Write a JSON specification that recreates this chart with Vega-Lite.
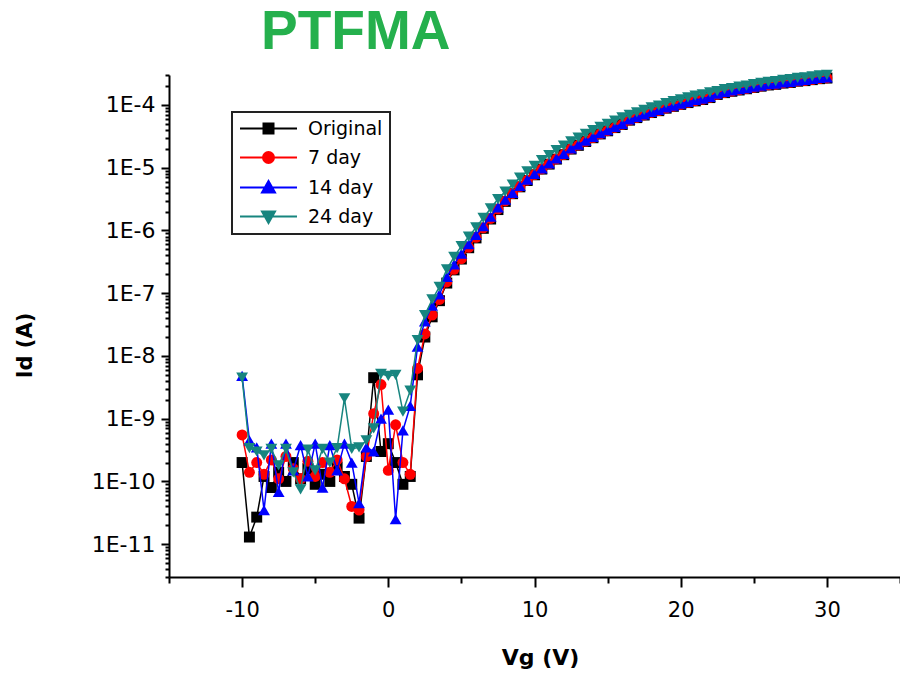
{
"$schema":"https://vega.github.io/schema/vega-lite/v6.json",
"width":731,"height":502,
"autosize":{"type":"none"},
"padding":{"left":169,"top":75,"right":0,"bottom":103},
"background":"white",
"config":{"view":{"stroke":null},"font":"DejaVu Sans","legend":{"strokeWidth":2}},
"title":{"text":"PTFMA","anchor":"start","frame":"group","dx":92,"offset":3,"font":"Liberation Sans","fontSize":55,"fontWeight":"bold","color":"#25b04d"},
"data":{"values":[
{"series":"Original","vg":-10,"id":2.0e-10},{"series":"Original","vg":-9.5,"id":1.3e-11},{"series":"Original","vg":-9,"id":2.7e-11},{"series":"Original","vg":-8.5,"id":1.2e-10},{"series":"Original","vg":-8,"id":8.0e-11},{"series":"Original","vg":-7.5,"id":1.4e-10},{"series":"Original","vg":-7,"id":1.0e-10},{"series":"Original","vg":-6.5,"id":2.0e-10},{"series":"Original","vg":-6,"id":1.1e-10},{"series":"Original","vg":-5.5,"id":1.6e-10},{"series":"Original","vg":-5,"id":9.0e-11},{"series":"Original","vg":-4.5,"id":1.3e-10},{"series":"Original","vg":-4,"id":1.0e-10},{"series":"Original","vg":-3.5,"id":1.7e-10},{"series":"Original","vg":-3,"id":1.2e-10},{"series":"Original","vg":-2.5,"id":9.0e-11},{"series":"Original","vg":-2,"id":2.6e-11},{"series":"Original","vg":-1.5,"id":2.5e-10},{"series":"Original","vg":-1,"id":4.5e-9},{"series":"Original","vg":-0.5,"id":3.0e-10},{"series":"Original","vg":0,"id":4.0e-10},{"series":"Original","vg":0.5,"id":2.0e-10},{"series":"Original","vg":1,"id":9.0e-11},{"series":"Original","vg":1.5,"id":1.2e-10},
{"series":"Original","vg":2,"id":5.0e-9},{"series":"Original","vg":2.5,"id":2.0e-8},{"series":"Original","vg":3,"id":4.2e-8},{"series":"Original","vg":3.5,"id":7.6e-8},{"series":"Original","vg":4,"id":1.45e-7},{"series":"Original","vg":4.5,"id":2.35e-7},{"series":"Original","vg":5,"id":3.5e-7},{"series":"Original","vg":5.5,"id":5.3e-7},{"series":"Original","vg":6,"id":7.6e-7},{"series":"Original","vg":6.5,"id":1.08e-6},{"series":"Original","vg":7,"id":1.52e-6},{"series":"Original","vg":7.5,"id":2.15e-6},{"series":"Original","vg":8,"id":2.9e-6},{"series":"Original","vg":8.5,"id":3.85e-6},{"series":"Original","vg":9,"id":4.95e-6},{"series":"Original","vg":9.5,"id":6.25e-6},{"series":"Original","vg":10,"id":7.7e-6},{"series":"Original","vg":10.5,"id":9.5e-6},{"series":"Original","vg":11,"id":1.14e-5},{"series":"Original","vg":11.5,"id":1.37e-5},{"series":"Original","vg":12,"id":1.61e-5},{"series":"Original","vg":12.5,"id":1.98e-5},{"series":"Original","vg":13,"id":2.27e-5},{"series":"Original","vg":13.5,"id":2.61e-5},{"series":"Original","vg":14,"id":3.0e-5},{"series":"Original","vg":14.5,"id":3.45e-5},{"series":"Original","vg":15,"id":3.87e-5},{"series":"Original","vg":15.5,"id":4.35e-5},{"series":"Original","vg":16,"id":4.88e-5},{"series":"Original","vg":16.5,"id":5.72e-5},{"series":"Original","vg":17,"id":6.28e-5},{"series":"Original","vg":17.5,"id":6.9e-5},{"series":"Original","vg":18,"id":7.56e-5},{"series":"Original","vg":18.5,"id":8.1e-5},{"series":"Original","vg":19,"id":8.88e-5},{"series":"Original","vg":19.5,"id":9.5e-5},{"series":"Original","vg":20,"id":1.02e-4},{"series":"Original","vg":20.5,"id":1.09e-4},{"series":"Original","vg":21,"id":1.16e-4},{"series":"Original","vg":21.5,"id":1.22e-4},{"series":"Original","vg":22,"id":1.31e-4},{"series":"Original","vg":22.5,"id":1.47e-4},{"series":"Original","vg":23,"id":1.57e-4},{"series":"Original","vg":23.5,"id":1.65e-4},{"series":"Original","vg":24,"id":1.73e-4},{"series":"Original","vg":24.5,"id":1.81e-4},{"series":"Original","vg":25,"id":1.9e-4},{"series":"Original","vg":25.5,"id":1.99e-4},{"series":"Original","vg":26,"id":2.08e-4},{"series":"Original","vg":26.5,"id":2.13e-4},{"series":"Original","vg":27,"id":2.23e-4},{"series":"Original","vg":27.5,"id":2.28e-4},{"series":"Original","vg":28,"id":2.39e-4},{"series":"Original","vg":28.5,"id":2.44e-4},{"series":"Original","vg":29,"id":2.53e-4},{"series":"Original","vg":29.5,"id":2.62e-4},{"series":"Original","vg":30,"id":2.68e-4},
{"series":"7 day","vg":-10,"id":5.5e-10},{"series":"7 day","vg":-9.5,"id":1.4e-10},{"series":"7 day","vg":-9,"id":2.0e-10},{"series":"7 day","vg":-8.5,"id":1.3e-10},{"series":"7 day","vg":-8,"id":2.2e-10},{"series":"7 day","vg":-7.5,"id":1.1e-10},{"series":"7 day","vg":-7,"id":2.5e-10},{"series":"7 day","vg":-6.5,"id":1.6e-10},{"series":"7 day","vg":-6,"id":1.1e-10},{"series":"7 day","vg":-5.5,"id":2.1e-10},{"series":"7 day","vg":-5,"id":1.2e-10},{"series":"7 day","vg":-4.5,"id":2.0e-10},{"series":"7 day","vg":-4,"id":1.4e-10},{"series":"7 day","vg":-3.5,"id":2.2e-10},{"series":"7 day","vg":-3,"id":1.1e-10},{"series":"7 day","vg":-2.5,"id":4.0e-11},{"series":"7 day","vg":-2,"id":3.5e-11},{"series":"7 day","vg":-1.5,"id":2.5e-10},{"series":"7 day","vg":-1,"id":1.2e-9},{"series":"7 day","vg":-0.5,"id":3.5e-9},{"series":"7 day","vg":0,"id":1.5e-10},{"series":"7 day","vg":0.5,"id":8.0e-10},{"series":"7 day","vg":1,"id":2.0e-10},{"series":"7 day","vg":1.5,"id":1.3e-10},
{"series":"7 day","vg":2,"id":6.31e-9},{"series":"7 day","vg":2.5,"id":2.24e-8},{"series":"7 day","vg":3,"id":4.47e-8},{"series":"7 day","vg":3.5,"id":7.94e-8},{"series":"7 day","vg":4,"id":1.51e-7},{"series":"7 day","vg":4.5,"id":2.4e-7},{"series":"7 day","vg":5,"id":3.55e-7},{"series":"7 day","vg":5.5,"id":5.37e-7},{"series":"7 day","vg":6,"id":7.76e-7},{"series":"7 day","vg":6.5,"id":1.1e-6},{"series":"7 day","vg":7,"id":1.55e-6},{"series":"7 day","vg":7.5,"id":2.19e-6},{"series":"7 day","vg":8,"id":2.95e-6},{"series":"7 day","vg":8.5,"id":3.89e-6},{"series":"7 day","vg":9,"id":5.01e-6},{"series":"7 day","vg":9.5,"id":6.31e-6},{"series":"7 day","vg":10,"id":7.76e-6},{"series":"7 day","vg":10.5,"id":9.55e-6},{"series":"7 day","vg":11,"id":1.15e-5},{"series":"7 day","vg":11.5,"id":1.38e-5},{"series":"7 day","vg":12,"id":1.62e-5},{"series":"7 day","vg":12.5,"id":2.0e-5},{"series":"7 day","vg":13,"id":2.29e-5},{"series":"7 day","vg":13.5,"id":2.63e-5},{"series":"7 day","vg":14,"id":3.02e-5},{"series":"7 day","vg":14.5,"id":3.47e-5},{"series":"7 day","vg":15,"id":3.89e-5},{"series":"7 day","vg":15.5,"id":4.37e-5},{"series":"7 day","vg":16,"id":4.9e-5},{"series":"7 day","vg":16.5,"id":5.75e-5},{"series":"7 day","vg":17,"id":6.31e-5},{"series":"7 day","vg":17.5,"id":6.92e-5},{"series":"7 day","vg":18,"id":7.59e-5},{"series":"7 day","vg":18.5,"id":8.13e-5},{"series":"7 day","vg":19,"id":8.91e-5},{"series":"7 day","vg":19.5,"id":9.55e-5},{"series":"7 day","vg":20,"id":1.02e-4},{"series":"7 day","vg":20.5,"id":1.1e-4},{"series":"7 day","vg":21,"id":1.17e-4},{"series":"7 day","vg":21.5,"id":1.23e-4},{"series":"7 day","vg":22,"id":1.32e-4},{"series":"7 day","vg":22.5,"id":1.48e-4},{"series":"7 day","vg":23,"id":1.58e-4},{"series":"7 day","vg":23.5,"id":1.66e-4},{"series":"7 day","vg":24,"id":1.74e-4},{"series":"7 day","vg":24.5,"id":1.82e-4},{"series":"7 day","vg":25,"id":1.91e-4},{"series":"7 day","vg":25.5,"id":2.0e-4},{"series":"7 day","vg":26,"id":2.09e-4},{"series":"7 day","vg":26.5,"id":2.14e-4},{"series":"7 day","vg":27,"id":2.24e-4},{"series":"7 day","vg":27.5,"id":2.29e-4},{"series":"7 day","vg":28,"id":2.4e-4},{"series":"7 day","vg":28.5,"id":2.45e-4},{"series":"7 day","vg":29,"id":2.54e-4},{"series":"7 day","vg":29.5,"id":2.63e-4},{"series":"7 day","vg":30,"id":2.69e-4},
{"series":"14 day","vg":-10,"id":4.8e-9},{"series":"14 day","vg":-9.5,"id":4.5e-10},{"series":"14 day","vg":-9,"id":3.5e-10},{"series":"14 day","vg":-8.5,"id":3.5e-11},{"series":"14 day","vg":-8,"id":4.0e-10},{"series":"14 day","vg":-7.5,"id":6.8e-11},{"series":"14 day","vg":-7,"id":4.0e-10},{"series":"14 day","vg":-6.5,"id":1.5e-10},{"series":"14 day","vg":-6,"id":3.8e-10},{"series":"14 day","vg":-5.5,"id":1.2e-10},{"series":"14 day","vg":-5,"id":4.0e-10},{"series":"14 day","vg":-4.5,"id":8.0e-11},{"series":"14 day","vg":-4,"id":3.8e-10},{"series":"14 day","vg":-3.5,"id":1.5e-10},{"series":"14 day","vg":-3,"id":4.0e-10},{"series":"14 day","vg":-2.5,"id":2.0e-10},{"series":"14 day","vg":-2,"id":4.5e-11},{"series":"14 day","vg":-1.5,"id":3.5e-10},{"series":"14 day","vg":-1,"id":3.0e-10},{"series":"14 day","vg":-0.5,"id":1.0e-9},{"series":"14 day","vg":0,"id":1.4e-9},{"series":"14 day","vg":0.5,"id":2.5e-11},{"series":"14 day","vg":1,"id":6.5e-10},{"series":"14 day","vg":1.5,"id":1.6e-9},
{"series":"14 day","vg":2,"id":1.41e-8},{"series":"14 day","vg":2.5,"id":3.55e-8},{"series":"14 day","vg":3,"id":6.31e-8},{"series":"14 day","vg":3.5,"id":9.55e-8},{"series":"14 day","vg":4,"id":1.82e-7},{"series":"14 day","vg":4.5,"id":2.88e-7},{"series":"14 day","vg":5,"id":4.27e-7},{"series":"14 day","vg":5.5,"id":6.03e-7},{"series":"14 day","vg":6,"id":8.51e-7},{"series":"14 day","vg":6.5,"id":1.17e-6},{"series":"14 day","vg":7,"id":1.66e-6},{"series":"14 day","vg":7.5,"id":2.34e-6},{"series":"14 day","vg":8,"id":3.09e-6},{"series":"14 day","vg":8.5,"id":3.98e-6},{"series":"14 day","vg":9,"id":5.13e-6},{"series":"14 day","vg":9.5,"id":6.46e-6},{"series":"14 day","vg":10,"id":7.94e-6},{"series":"14 day","vg":10.5,"id":9.77e-6},{"series":"14 day","vg":11,"id":1.17e-5},{"series":"14 day","vg":11.5,"id":1.41e-5},{"series":"14 day","vg":12,"id":1.66e-5},{"series":"14 day","vg":12.5,"id":2.04e-5},{"series":"14 day","vg":13,"id":2.34e-5},{"series":"14 day","vg":13.5,"id":2.69e-5},{"series":"14 day","vg":14,"id":3.09e-5},{"series":"14 day","vg":14.5,"id":3.55e-5},{"series":"14 day","vg":15,"id":3.98e-5},{"series":"14 day","vg":15.5,"id":4.47e-5},{"series":"14 day","vg":16,"id":5.01e-5},{"series":"14 day","vg":16.5,"id":5.89e-5},{"series":"14 day","vg":17,"id":6.46e-5},{"series":"14 day","vg":17.5,"id":7.08e-5},{"series":"14 day","vg":18,"id":7.76e-5},{"series":"14 day","vg":18.5,"id":8.32e-5},{"series":"14 day","vg":19,"id":9.12e-5},{"series":"14 day","vg":19.5,"id":9.77e-5},{"series":"14 day","vg":20,"id":1.05e-4},{"series":"14 day","vg":20.5,"id":1.12e-4},{"series":"14 day","vg":21,"id":1.2e-4},{"series":"14 day","vg":21.5,"id":1.26e-4},{"series":"14 day","vg":22,"id":1.35e-4},{"series":"14 day","vg":22.5,"id":1.51e-4},{"series":"14 day","vg":23,"id":1.62e-4},{"series":"14 day","vg":23.5,"id":1.7e-4},{"series":"14 day","vg":24,"id":1.78e-4},{"series":"14 day","vg":24.5,"id":1.86e-4},{"series":"14 day","vg":25,"id":1.95e-4},{"series":"14 day","vg":25.5,"id":2.04e-4},{"series":"14 day","vg":26,"id":2.14e-4},{"series":"14 day","vg":26.5,"id":2.19e-4},{"series":"14 day","vg":27,"id":2.29e-4},{"series":"14 day","vg":27.5,"id":2.34e-4},{"series":"14 day","vg":28,"id":2.45e-4},{"series":"14 day","vg":28.5,"id":2.51e-4},{"series":"14 day","vg":29,"id":2.6e-4},{"series":"14 day","vg":29.5,"id":2.69e-4},{"series":"14 day","vg":30,"id":2.75e-4},
{"series":"24 day","vg":-10,"id":4.5e-9},{"series":"24 day","vg":-9.5,"id":3.4e-10},{"series":"24 day","vg":-9,"id":3.0e-10},{"series":"24 day","vg":-8.5,"id":2.6e-10},{"series":"24 day","vg":-8,"id":3.3e-10},{"series":"24 day","vg":-7.5,"id":1.8e-10},{"series":"24 day","vg":-7,"id":3.3e-10},{"series":"24 day","vg":-6.5,"id":1.4e-10},{"series":"24 day","vg":-6,"id":7.5e-11},{"series":"24 day","vg":-5.5,"id":3.2e-10},{"series":"24 day","vg":-5,"id":1.5e-10},{"series":"24 day","vg":-4.5,"id":3.3e-10},{"series":"24 day","vg":-4,"id":2.0e-10},{"series":"24 day","vg":-3.5,"id":3.4e-10},{"series":"24 day","vg":-3,"id":2.1e-9},{"series":"24 day","vg":-2.5,"id":3.3e-10},{"series":"24 day","vg":-2,"id":3.5e-10},{"series":"24 day","vg":-1.5,"id":4.5e-10},{"series":"24 day","vg":-1,"id":7.0e-10},{"series":"24 day","vg":-0.5,"id":5.2e-9},{"series":"24 day","vg":0,"id":4.8e-9},{"series":"24 day","vg":0.5,"id":5.0e-9},{"series":"24 day","vg":1,"id":1.3e-9},{"series":"24 day","vg":1.5,"id":2.8e-9},
{"series":"24 day","vg":2,"id":1.78e-8},{"series":"24 day","vg":2.5,"id":4.47e-8},{"series":"24 day","vg":3,"id":7.94e-8},{"series":"24 day","vg":3.5,"id":1.26e-7},{"series":"24 day","vg":4,"id":2.4e-7},{"series":"24 day","vg":4.5,"id":3.8e-7},{"series":"24 day","vg":5,"id":5.62e-7},{"series":"24 day","vg":5.5,"id":7.94e-7},{"series":"24 day","vg":6,"id":1.12e-6},{"series":"24 day","vg":6.5,"id":1.58e-6},{"series":"24 day","vg":7,"id":2.24e-6},{"series":"24 day","vg":7.5,"id":3.16e-6},{"series":"24 day","vg":8,"id":4.17e-6},{"series":"24 day","vg":8.5,"id":5.37e-6},{"series":"24 day","vg":9,"id":6.92e-6},{"series":"24 day","vg":9.5,"id":8.71e-6},{"series":"24 day","vg":10,"id":1.07e-5},{"series":"24 day","vg":10.5,"id":1.32e-5},{"series":"24 day","vg":11,"id":1.58e-5},{"series":"24 day","vg":11.5,"id":1.91e-5},{"series":"24 day","vg":12,"id":2.24e-5},{"series":"24 day","vg":12.5,"id":2.63e-5},{"series":"24 day","vg":13,"id":3.02e-5},{"series":"24 day","vg":13.5,"id":3.47e-5},{"series":"24 day","vg":14,"id":3.98e-5},{"series":"24 day","vg":14.5,"id":4.47e-5},{"series":"24 day","vg":15,"id":5.01e-5},{"series":"24 day","vg":15.5,"id":5.62e-5},{"series":"24 day","vg":16,"id":6.31e-5},{"series":"24 day","vg":16.5,"id":6.92e-5},{"series":"24 day","vg":17,"id":7.59e-5},{"series":"24 day","vg":17.5,"id":8.32e-5},{"series":"24 day","vg":18,"id":9.12e-5},{"series":"24 day","vg":18.5,"id":9.77e-5},{"series":"24 day","vg":19,"id":1.07e-4},{"series":"24 day","vg":19.5,"id":1.15e-4},{"series":"24 day","vg":20,"id":1.23e-4},{"series":"24 day","vg":20.5,"id":1.32e-4},{"series":"24 day","vg":21,"id":1.41e-4},{"series":"24 day","vg":21.5,"id":1.48e-4},{"series":"24 day","vg":22,"id":1.58e-4},{"series":"24 day","vg":22.5,"id":1.66e-4},{"series":"24 day","vg":23,"id":1.78e-4},{"series":"24 day","vg":23.5,"id":1.86e-4},{"series":"24 day","vg":24,"id":1.95e-4},{"series":"24 day","vg":24.5,"id":2.04e-4},{"series":"24 day","vg":25,"id":2.14e-4},{"series":"24 day","vg":25.5,"id":2.24e-4},{"series":"24 day","vg":26,"id":2.34e-4},{"series":"24 day","vg":26.5,"id":2.4e-4},{"series":"24 day","vg":27,"id":2.51e-4},{"series":"24 day","vg":27.5,"id":2.57e-4},{"series":"24 day","vg":28,"id":2.69e-4},{"series":"24 day","vg":28.5,"id":2.75e-4},{"series":"24 day","vg":29,"id":2.85e-4},{"series":"24 day","vg":29.5,"id":2.95e-4},{"series":"24 day","vg":30,"id":3.02e-4}
]},
"encoding":{
 "x":{"field":"vg","type":"quantitative","scale":{"domain":[-15,35],"nice":false,"zero":false},
  "axis":{"title":"Vg (V)","values":[-15,-10,-5,0,5,10,15,20,25,30,35],
   "labelExpr":"datum.value % 10 === 0 ? '' + datum.value : ''",
   "tickSize":{"condition":{"test":"datum.value % 10 === 0","value":10},"value":6},
   "labelFontSize":21,"labelFont":"DejaVu Sans","labelPadding":12,"labelFlush":false,"labelOverlap":false,
   "titleFontSize":22,"titleFont":"DejaVu Sans","titleFontWeight":"bold","titleX":371,"titleY":70,"titleBaseline":"top",
   "domainWidth":2,"tickWidth":2,"domainColor":"black","tickColor":"black","labelColor":"black","titleColor":"black","grid":false}},
 "y":{"field":"id","type":"quantitative","scale":{"type":"log","domain":[3e-12,3e-4],"nice":false},
  "axis":{"title":"Id (A)","values":[3e-12,4e-12,5e-12,6e-12,7e-12,8e-12,9e-12,1e-11,2e-11,3e-11,4e-11,5e-11,6e-11,7e-11,8e-11,9e-11,1e-10,2e-10,3e-10,4e-10,5e-10,6e-10,7e-10,8e-10,9e-10,1e-9,2e-9,3e-9,4e-9,5e-9,6e-9,7e-9,8e-9,9e-9,1e-8,2e-8,3e-8,4e-8,5e-8,6e-8,7e-8,8e-8,9e-8,1e-7,2e-7,3e-7,4e-7,5e-7,6e-7,7e-7,8e-7,9e-7,1e-6,2e-6,3e-6,4e-6,5e-6,6e-6,7e-6,8e-6,9e-6,1e-5,2e-5,3e-5,4e-5,5e-5,6e-5,7e-5,8e-5,9e-5,1e-4,2e-4,3e-4],
   "labelExpr":"abs(log(datum.value)/LN10 - round(log(datum.value)/LN10)) < 0.001 ? '1E' + round(log(datum.value)/LN10) : ''",
   "tickSize":{"condition":{"test":"abs(log(datum.value)/LN10 - round(log(datum.value)/LN10)) < 0.001","value":8},"value":4},
   "labelFontSize":22,"labelFont":"DejaVu Sans","labelPadding":6,"labelOverlap":false,"labelFlush":false,
   "titleFontSize":21,"titleFont":"DejaVu Sans","titleFontWeight":"bold","titleX":-134,"titleY":270,
   "domainWidth":2,"tickWidth":2,"domainColor":"black","tickColor":"black","labelColor":"black","titleColor":"black","grid":false}},
 "color":{"field":"series","type":"nominal","scale":{"domain":["Original","7 day","14 day","24 day"],"range":["#000000","#ff0000","#0000ff","#17857f"]},
  "legend":{"title":null,"orient":"none","legendX":63,"legendY":37,"padding":7,"rowPadding":9,"symbolSize":100,"symbolOffset":20,"labelOffset":30,
   "labelFontSize":19,"labelFont":"DejaVu Sans","labelColor":"black","strokeColor":"#222222","fillColor":"white",
   "encode":{
    "symbols":{"update":{
     "shape":{"signal":"datum.value === 'Original' ? 'M-5.7,0L5.7,0M-1,-1L1,-1L1,1L-1,1Z' : datum.value === '7 day' ? 'M-5.7,0L5.7,0M-1.1,0A1.1,1.1,0,1,0,1.1,0A1.1,1.1,0,1,0,-1.1,0Z' : datum.value === '14 day' ? 'M-5.7,0L5.7,0M0,-1.3L1.3,1L-1.3,1Z' : 'M-5.7,0L5.7,0M0,1.3L1.3,-1L-1.3,-1Z'"},
     "stroke":{"signal":"scale('color', datum.value)"},
     "strokeWidth":{"value":2}}}}}}
},
"layer":[
 {"transform":[{"filter":"datum.series === 'Original'"}],"mark":{"type":"line","strokeWidth":1.5,"clip":false}},
 {"transform":[{"filter":"datum.series === 'Original'"}],"mark":{"type":"point","shape":"square","filled":true,"size":120,"opacity":1,"clip":false}},
 {"transform":[{"filter":"datum.series === '7 day'"}],"mark":{"type":"line","strokeWidth":1.5,"clip":false}},
 {"transform":[{"filter":"datum.series === '7 day'"}],"mark":{"type":"point","shape":"circle","filled":true,"size":120,"opacity":1,"clip":false}},
 {"transform":[{"filter":"datum.series === '14 day'"}],"mark":{"type":"line","strokeWidth":1.5,"clip":false}},
 {"transform":[{"filter":"datum.series === '14 day'"}],"mark":{"type":"point","shape":"triangle-up","filled":true,"size":140,"opacity":1,"clip":false}},
 {"transform":[{"filter":"datum.series === '24 day'"}],"mark":{"type":"line","strokeWidth":1.5,"clip":false}},
 {"transform":[{"filter":"datum.series === '24 day'"}],"mark":{"type":"point","shape":"triangle-down","filled":true,"size":140,"opacity":1,"clip":false}}
]
}
